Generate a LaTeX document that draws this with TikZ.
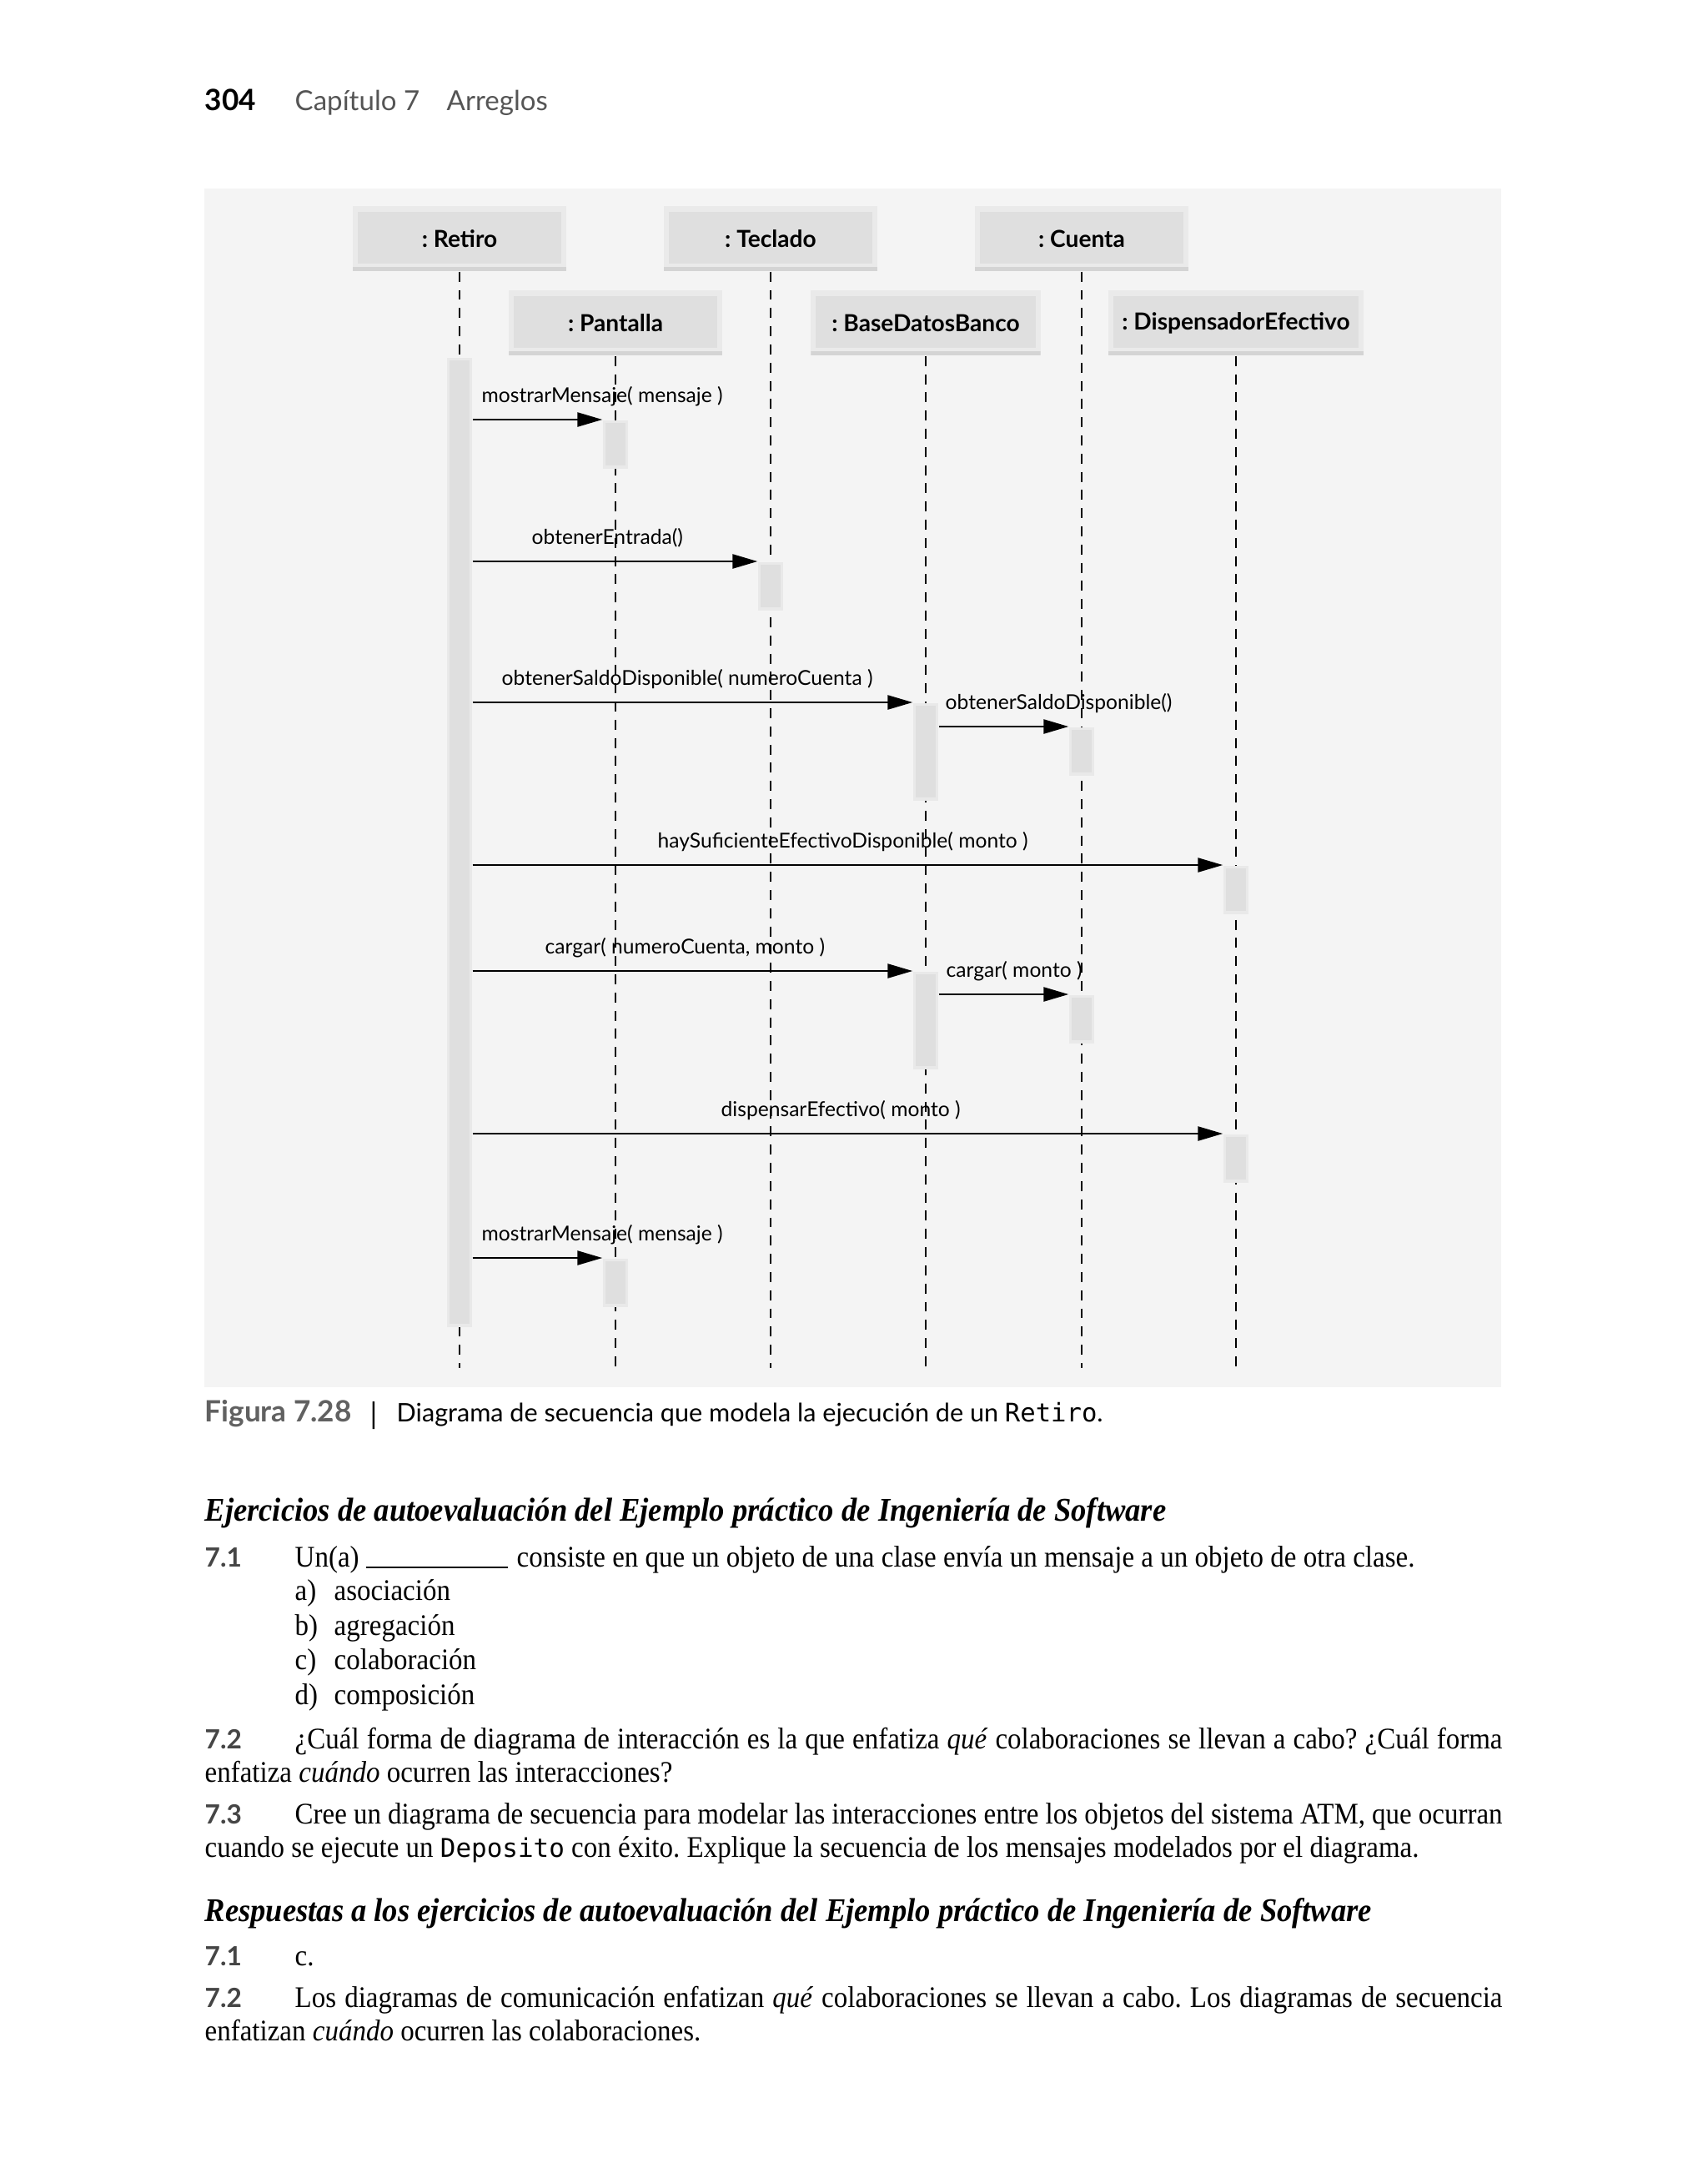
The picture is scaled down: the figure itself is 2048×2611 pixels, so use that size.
\documentclass[tikz,border=0pt]{standalone}
\usepackage{fontspec}
\setmainfont{Liberation Serif}[FakeStretch=0.92]
\setsansfont{Lato}
\setmonofont{DejaVu Sans Mono}
\usetikzlibrary{arrows.meta}
\frenchspacing

\definecolor{diagbg}{HTML}{F4F4F4}
\definecolor{objface}{HTML}{DFDFDF}
\definecolor{objedge}{HTML}{EAEAEA}
\definecolor{objshade}{HTML}{D4D4D4}
\definecolor{actface}{HTML}{DFDFDF}
\definecolor{actedge}{HTML}{E9E9E9}
\definecolor{headgray}{HTML}{555555}
\definecolor{numgray}{HTML}{454545}

\tikzset{
  obj/.style={fill=objedge, minimum width=2.56cm, minimum height=0.78cm, inner sep=0pt,
    font=\sffamily\bfseries\fontsize{8}{9}\selectfont,
    path picture={
      \fill[objshade] ([shift={(0cm,0.05cm)}]path picture bounding box.south west)
        rectangle (path picture bounding box.south east);
      \fill[objface] ([shift={(0.06cm,-0.07cm)}]path picture bounding box.north west)
        rectangle ([shift={(-0.06cm,0.09cm)}]path picture bounding box.south east);}},
  act/.style={fill=actedge, minimum width=0.3cm, minimum height=0.58cm, inner sep=0pt, anchor=north,
    path picture={\fill[actface] ([shift={(0.03cm,-0.03cm)}]path picture bounding box.north west)
      rectangle ([shift={(-0.03cm,0.04cm)}]path picture bounding box.south east);}},
  longact/.style={minimum height=1.17cm},
  lifeline/.style={line width=0.6pt, dash pattern=on 3.4pt off 2.8pt},
  msg/.style={line width=0.7pt, -{Triangle[length=0.3cm,width=0.17cm]}},
  msglbl/.style={anchor=base west, inner sep=0pt, font=\sffamily\fontsize{7}{8}\selectfont},
  txt/.style={anchor=base west, inner sep=0pt, font=\fontsize{10.2}{11}\selectfont},
  head/.style={anchor=base west, inner sep=0pt, font=\bfseries\itshape\fontsize{11.3}{13}\selectfont},
  num/.style={anchor=base west, inner sep=0pt, text=numgray, font=\sffamily\bfseries\fontsize{9}{11}\selectfont},
}

\begin{document}
\begin{tikzpicture}[x=0.01cm, y=-0.01cm]
  \useasboundingbox (0,0) rectangle (2048,2611);
  \fill[white] (0,0) rectangle (2048,2611);

  % page header
  \node[anchor=base west, inner sep=0pt, font=\sffamily\bfseries\fontsize{10}{12}\selectfont] (pagenum) at (245,132) {304};
  \node[anchor=base west, inner sep=0pt, text=headgray, font=\sffamily\fontsize{9.4}{12}\selectfont] (chapter) at (353,132) {Capítulo 7};
  \node[anchor=base west, inner sep=0pt, text=headgray, font=\sffamily\fontsize{9.4}{12}\selectfont] (chaptitle) at (535,132) {Arreglos};

  % diagram
  \fill[diagbg] (245,226) rectangle (1800,1663);
  \coordinate (bottom) at (0,1640);

  \node[obj] (retiro) at (551,286) {: Retiro};
  \node[obj] (teclado) at (924,286) {: Teclado};
  \node[obj] (cuenta) at (1297,286) {: Cuenta};
  \node[obj] (pantalla) at (738,387) {: Pantalla};
  \node[obj, minimum width=2.75cm] (basedatos) at (1110,387) {: BaseDatosBanco};
  \node[obj, minimum width=3.06cm] (dispensador) at (1482,387) {: DispensadorEfectivo};

  \foreach \o in {retiro,teclado,cuenta,pantalla,basedatos,dispensador}
    \draw[lifeline] (\o.south) -- (\o.south |- bottom);

  \node[act, minimum height=11.62cm] (barretiro) at (551,428) {};
  \node[act] (p1) at (738,503) {};
  \node[act] (t1) at (924,673) {};
  \node[act, longact] (b1) at (1110,842) {};
  \node[act] (c1) at (1297,871) {};
  \node[act] (d1) at (1482,1037) {};
  \node[act, longact] (b2) at (1110,1164) {};
  \node[act] (c2) at (1297,1192) {};
  \node[act] (d2) at (1482,1359) {};
  \node[act] (p2) at (738,1508) {};

  \draw[msg] (barretiro.east |- p1.north west) -- (p1.north west);
  \draw[msg] (barretiro.east |- t1.north west) -- (t1.north west);
  \draw[msg] (barretiro.east |- b1.north west) -- (b1.north west);
  \draw[msg] (b1.east |- c1.north west) -- (c1.north west);
  \draw[msg] (barretiro.east |- d1.north west) -- (d1.north west);
  \draw[msg] (barretiro.east |- b2.north west) -- (b2.north west);
  \draw[msg] (b2.east |- c2.north west) -- (c2.north west);
  \draw[msg] (barretiro.east |- d2.north west) -- (d2.north west);
  \draw[msg] (barretiro.east |- p2.north west) -- (p2.north west);

  \node[msglbl] (m1) at (577,482) {mostrarMensaje( mensaje )};
  \node[msglbl] (m2) at (637,652) {obtenerEntrada()};
  \node[msglbl] (m3) at (601,821) {obtenerSaldoDisponible( numeroCuenta )};
  \node[msglbl] (m3b) at (1133,850) {obtenerSaldoDisponible()};
  \node[msglbl] (m4) at (788,1016) {haySuficienteEfectivoDisponible( monto )};
  \node[msglbl] (m5) at (653,1143) {cargar( numeroCuenta, monto )};
  \node[msglbl] (m5b) at (1134,1171) {cargar( monto )};
  \node[msglbl] (m6) at (864,1338) {dispensarEfectivo( monto )};
  \node[msglbl] (m7) at (577,1487) {mostrarMensaje( mensaje )};

  % caption
  \node[anchor=base west, inner sep=0pt, text=numgray!85, font=\sffamily\bfseries\fontsize{10}{12}\selectfont] (fignum) at (245,1704) {Figura 7.28};
  \node[anchor=base west, inner sep=0pt, font=\sffamily\fontsize{10}{12}\selectfont] (figbar) at (443,1707) {|};
  \node[anchor=base west, inner sep=0pt, font=\sffamily\fontsize{8.7}{12}\selectfont] (figtext) at (475,1704) {Diagrama de secuencia que modela la ejecución de un \texttt{Retiro}.};

  % exercises
  \node[head] (h1) at (245,1823) {Ejercicios de autoevaluación del Ejemplo práctico de Ingeniería de Software};
  \node[num] (n71) at (245,1878) {7.1};
  \node[txt] (q71) at (353,1878) {Un(a) \rule[-0.5pt]{1.7cm}{0.5pt}};
  \node[txt] (q71b) at (619,1878) {consiste en que un objeto de una clase envía un mensaje a un objeto de otra clase.};
  \node[txt] (opa) at (353,1918) {\makebox[0.47cm][l]{a)}asociación};
  \node[txt] (opb) at (353,1960) {\makebox[0.47cm][l]{b)}agregación};
  \node[txt] (opc) at (353,2001) {\makebox[0.47cm][l]{c)}colaboración};
  \node[txt] (opd) at (353,2043) {\makebox[0.47cm][l]{d)}composición};

  \node[num] (n72) at (245,2096) {7.2};
  \node[txt] (q72) at (353,2096) {\makebox[14.47cm][s]{¿Cuál forma de diagrama de interacción es la que enfatiza \textit{qué} colaboraciones se llevan a cabo? ¿Cuál forma}};
  \node[txt] (q72b) at (245,2136) {enfatiza \textit{cuándo} ocurren las interacciones?};

  \node[num] (n73) at (245,2186) {7.3};
  \node[txt] (q73) at (353,2186) {\makebox[14.47cm][s]{Cree un diagrama de secuencia para modelar las interacciones entre los objetos del sistema ATM, que ocurran}};
  \node[txt] (q73b) at (245,2226) {cuando se ejecute un {\fontsize{8.8}{11}\ttfamily Deposito} con éxito. Explique la secuencia de los mensajes modelados por el diagrama.};

  \node[head] (h2) at (245,2303) {Respuestas a los ejercicios de autoevaluación del Ejemplo práctico de Ingeniería de Software};
  \node[num] (r71) at (245,2356) {7.1};
  \node[txt] (a71) at (353,2356) {c.};
  \node[num] (r72) at (245,2406) {7.2};
  \node[txt] (a72) at (353,2406) {\makebox[14.47cm][s]{Los diagramas de comunicación enfatizan \textit{qué} colaboraciones se llevan a cabo. Los diagramas de secuencia}};
  \node[txt] (a72b) at (245,2446) {enfatizan \textit{cuándo} ocurren las colaboraciones.};
\end{tikzpicture}
\end{document}
